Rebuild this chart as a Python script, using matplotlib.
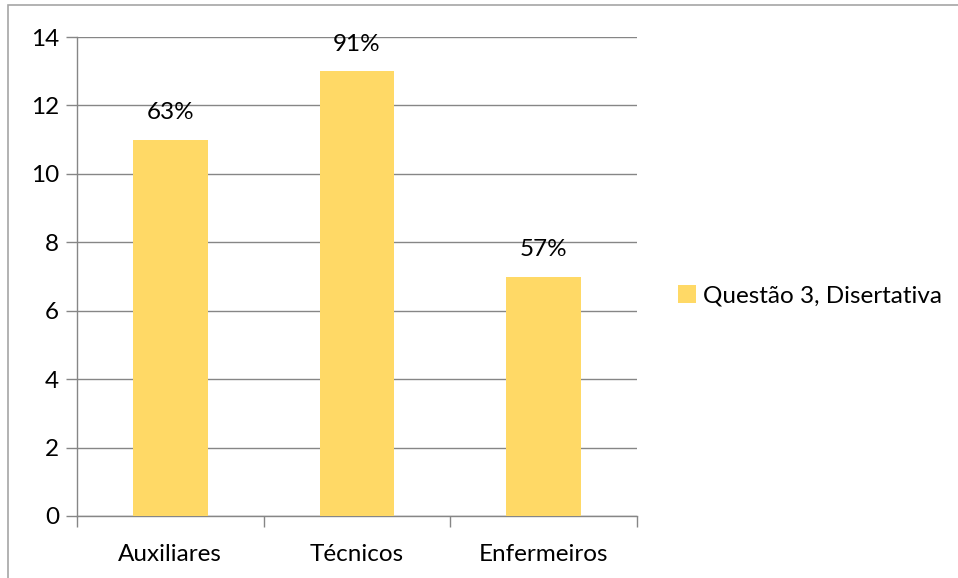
import matplotlib.pyplot as plt
from matplotlib.patches import Rectangle

categories = ["Auxiliares", "Técnicos", "Enfermeiros"]
counts = [11, 13, 7]
pct_labels = ["63%", "91%", "57%"]
series_name = "Questão 3, Disertativa"
yticks = [0, 2, 4, 6, 8, 10, 12, 14]

bar_color = "#FFD966"
grid_color = "#868686"

plt.rcParams["font.family"] = ["Lato", "DejaVu Sans"]
fs = 17.5

fig = plt.figure(figsize=(9.58, 5.78), dpi=100)
W, H = 958, 578
ax = fig.add_axes([77 / W, 1 - 516 / H, (637 - 77) / W, (516 - 37) / H])

x = range(len(categories))
bars = ax.bar(x, counts, width=0.4, color=bar_color, label=series_name, zorder=3)

for b, lab in zip(bars, pct_labels):
    ax.annotate(lab, (b.get_x() + b.get_width() / 2, b.get_height()),
                xytext=(0, 12), textcoords="offset points",
                ha="center", va="bottom", fontsize=fs)

ax.set_xlim(-0.5, len(categories) - 0.5)
ax.set_ylim(0, 14)
ax.set_yticks(yticks)
ax.tick_params(axis="y", length=8, width=1, color=grid_color, labelsize=fs, pad=5)
ax.yaxis.grid(True, color=grid_color, linewidth=1, zorder=0)

# category labels centred under bars, ticks between categories
ax.set_xticks([i - 0.5 for i in range(len(categories) + 1)])
ax.set_xticklabels([])
ax.tick_params(axis="x", length=8, width=1, color=grid_color)
ax.set_xticks(list(x), minor=True)
ax.set_xticklabels(categories, minor=True, fontsize=fs)
ax.tick_params(axis="x", which="minor", length=0, pad=20)

for side in ["top", "right"]:
    ax.spines[side].set_visible(False)
for side in ["left", "bottom"]:
    ax.spines[side].set_color(grid_color)
    ax.spines[side].set_linewidth(1)

fig.legend(handles=[bars], labels=[series_name], loc="center left",
           bbox_to_anchor=(656 / W, 1 - 296 / H), frameon=False,
           fontsize=fs, handlelength=0.75, handleheight=0.75, handletextpad=0.3)

# outer chart border
fig.patches.append(Rectangle((8 / W, -0.1), 1.2, 1 - 5 / H + 0.1,
                             transform=fig.transFigure, fill=False,
                             edgecolor="#A6A6A6", linewidth=1.2))

fig.savefig("out.png", dpi=100)
